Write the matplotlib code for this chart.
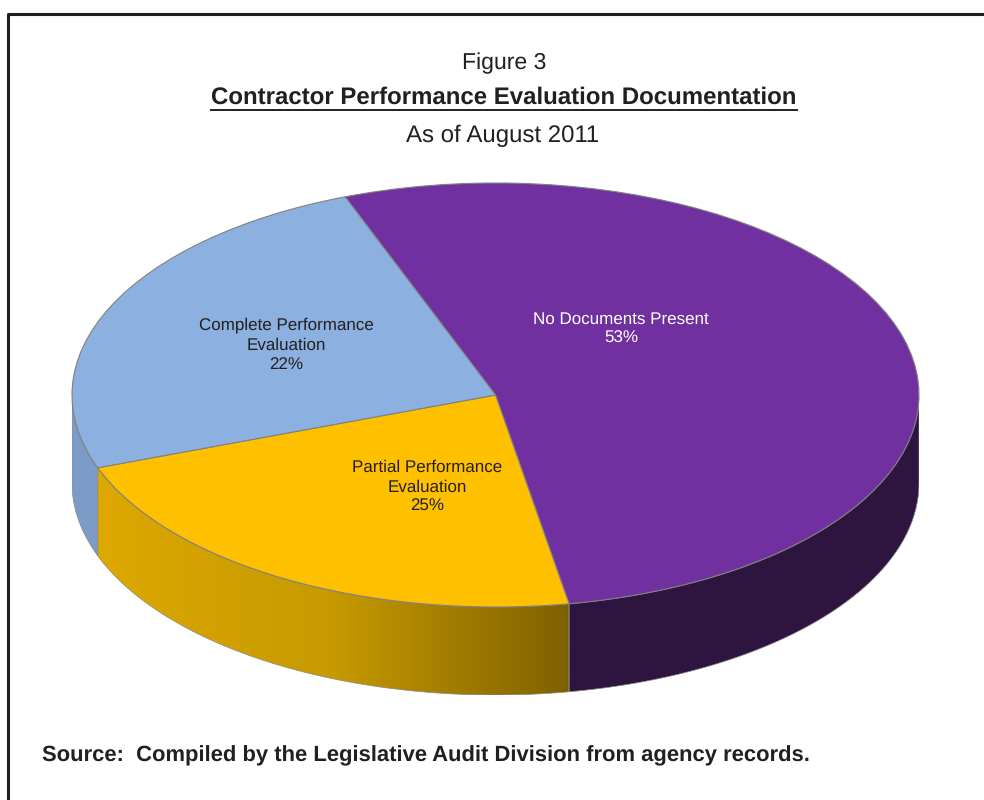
import numpy as np
import matplotlib
matplotlib.use("Agg")
import matplotlib.pyplot as plt
from matplotlib.colors import LinearSegmentedColormap
from matplotlib.patches import Polygon

plt.rcParams["text.hinting"] = "no_hinting"
plt.rcParams["text.hinting_factor"] = 1

W, H = 984, 800
FONT = "Liberation Sans"

# slice data, clockwise from the top left edge of the purple slice
categories = ["No Documents Present", "Partial Performance\nEvaluation", "Complete Performance\nEvaluation"]
shares = [53.0, 22.2, 24.8]  # drawn size of each slice
percent_labels = ["53%", "25%", "22%"]

top_colors = ["#7030A0", "#FFC000", "#8CB1E0"]
wall_colors = [["#2E1540", "#2E1540"], ["#DDA800", "#C69A00", "#7F6000"], ["#7D9BC8", "#7D9BC8"]]
label_colors = ["white", "#231F20", "#231F20"]
label_pos = [(621, 329), (427, 487), (286, 345)]  # pixels


def fx(x):
    return x / W


def fy(y):
    return 1 - y / H


fig = plt.figure(figsize=(W / 100, H / 100), dpi=100, facecolor="white")

# pie axes: top face runs x 72-919, y 183-607, wall 88 px deep
depth = 88 / 212
ax = fig.add_axes([fx(72), fy(695), (919 - 72) / W, (695 - 183) / H])
wedges, _ = ax.pie(shares, colors=top_colors, startangle=110.8, counterclock=False, radius=1,
                   wedgeprops=dict(edgecolor="#808080", linewidth=0.8, zorder=5))
ax.set_aspect("auto")
xlim = (-1, 1)
ylim = (-1 - depth, 1)

# side walls, only the front part of each slice shows
for wedge, stops in zip(wedges, wall_colors):
    t1, t2 = sorted((wedge.theta1, wedge.theta2))
    t = np.radians(np.linspace(t1, t2, 400))
    x, y = np.cos(t), np.sin(t)
    keep = np.sin(t) < 0
    if keep.sum() < 2:
        continue
    x, y = x[keep], y[keep]
    pts = np.vstack([np.column_stack([x, y]), np.column_stack([x[::-1], y[::-1] - depth])])
    poly = Polygon(pts, closed=True, facecolor="none", edgecolor="#8A8A8A", linewidth=0.5, zorder=3)
    ax.add_patch(poly)
    cmap = LinearSegmentedColormap.from_list("wall", stops)
    # gradient runs left to right across the visible wall
    grad = np.linspace(0, 1, 256).reshape(1, -1)
    im = ax.imshow(grad, cmap=cmap, aspect="auto", zorder=2,
                   extent=(x.min(), x.max(), y.min() - depth, y.max()))
    im.set_clip_path(poly)

ax.set_xlim(xlim)
ax.set_ylim(ylim)
ax.axis("off")

# slice labels
for name, pct, (px, py), col in zip(categories, percent_labels, label_pos, label_colors):
    fig.text(fx(px), fy(py), name + "\n" + pct, ha="center", va="center", color=col,
             family=FONT, fontsize=12.2, linespacing=1.3, zorder=10)

# headings
fig.text(fx(504), fy(63), "Figure 3", ha="center", va="center", family=FONT, fontsize=16.8, color="#231F20")
head = fig.text(fx(504), fy(98), "Contractor Performance Evaluation Documentation", ha="center", va="center",
                family=FONT, fontweight="bold", fontsize=17.4, color="#231F20")
fig.text(fx(503), fy(136), "As of August 2011", ha="center", va="center", family=FONT, fontsize=17, color="#231F20")
fig.text(fx(42), fy(756), "Source:  Compiled by the Legislative Audit Division from agency records.",
         ha="left", va="center", family=FONT, fontweight="bold", fontsize=16.1, color="#231F20")

# underline the heading
fig.canvas.draw()
box = head.get_window_extent()
fig.add_artist(plt.Line2D([box.x0 / W, box.x1 / W], [fy(109.5), fy(109.5)], color="#231F20", linewidth=1.4))

# frame, only the top and left sides are in the picture
fig.add_artist(plt.Line2D([fx(8), fx(8), 1], [0, fy(14), fy(14)], color="#231F20", linewidth=2.2))

fig.savefig("out.png", dpi=100)
